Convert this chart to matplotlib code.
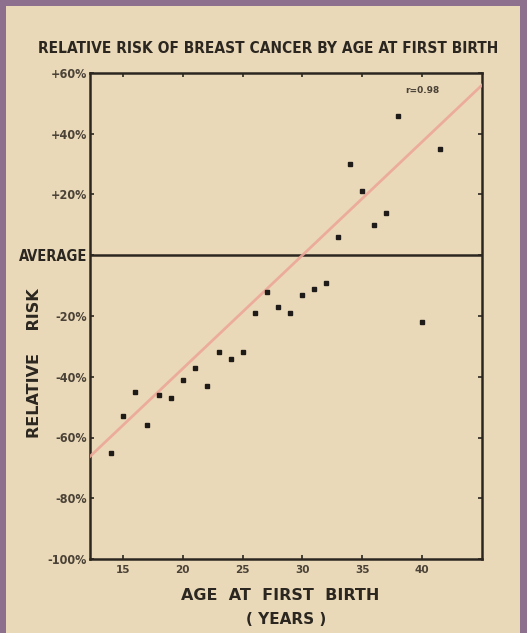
import matplotlib.pyplot as plt
from matplotlib.patches import Rectangle

# 数据：首次生育年龄与相对风险（%）
ages = [14, 15, 16, 17, 18, 19, 20, 21, 22, 23, 24, 25, 26, 27, 28, 29,
        30, 31, 32, 33, 34, 35, 36, 37, 38, 40, 41.5]
risk = [-65, -53, -45, -56, -46, -47, -41, -37, -43, -32, -34, -32, -19, -12,
        -17, -19, -13, -11, -9, 6, 30, 21, 10, 14, 46, -22, 35]

# 趋势线（斜率、过零点年龄）
trend_slope = 3.73
trend_zero_age = 30
trend_ages = [12, 46]
trend_values = [trend_slope * (a - trend_zero_age) for a in trend_ages]

x_ticks = [15, 20, 25, 30, 35, 40]
y_ticks = [-100, -80, -60, -40, -20, 0, 20, 40, 60]
y_labels = ['-100%', '-80%', '-60%', '-40%', '-20%', 'AVERAGE', '+20%', '+40%', '+60%']

paper = '#ead9b9'
ink = '#2b2720'

fig = plt.figure(figsize=(5.27, 6.33), dpi=100)
fig.patch.set_facecolor('#8d6f8e')
fig.patches.append(Rectangle((6 / 527, 0), 514 / 527, 627 / 633,
                             transform=fig.transFigure, facecolor=paper,
                             edgecolor='none', zorder=-5))

ax = fig.add_axes([90 / 527, 74 / 633, 392 / 527, 486 / 633])
ax.set_facecolor(paper)

# 平均线
ax.axhline(0, color=ink, lw=1.8, zorder=2)

# 趋势线
ax.plot(trend_ages, trend_values, color='#eca899', lw=2.0, alpha=0.9, zorder=3)

# 散点
ax.plot(ages, risk, linestyle='none', marker='s', markersize=3.2,
        color='#1e1b18', zorder=4)

ax.set_xlim(12.24, 45.02)
ax.set_ylim(-100, 60)

ax.set_xticks(x_ticks)
ax.set_xticklabels([str(t) for t in x_ticks])
ax.set_yticks(y_ticks)
ax.set_yticklabels(y_labels)

for s in ax.spines.values():
    s.set_color(ink)
    s.set_linewidth(1.8)

ax.tick_params(direction='in', length=3, width=1.2, color=ink,
               top=True, right=True, labelcolor='#4a4236', pad=2)
ax.tick_params(axis='y', labelsize=9)
ax.tick_params(axis='x', labelsize=7.5, pad=4)
for lab in ax.get_yticklabels():
    lab.set_fontweight('bold')
    lab.set_fontstretch('condensed')
    if lab.get_text() == 'AVERAGE':
        lab.set_fontsize(10.5)
        lab.set_color(ink)
for lab in ax.get_xticklabels():
    lab.set_fontweight('bold')

ax.text(0.847, 0.965, 'r=0.98', transform=ax.transAxes, fontsize=6.5,
        fontweight='bold', color='#4a4236', ha='center', va='center')

fig.text(0.509, 0.924, 'RELATIVE RISK OF BREAST CANCER BY AGE AT FIRST BIRTH',
         ha='center', va='center', fontsize=11.1, fontweight='bold',
         fontstretch='condensed', color=ink)
fig.text(0.532, 1 - 596 / 633, 'AGE  AT  FIRST  BIRTH', ha='center',
         va='center', fontsize=11.5, fontweight='bold', color=ink)
fig.text(0.543, 1 - 620 / 633, '( YEARS )', ha='center', va='center',
         fontsize=11, fontweight='bold', color=ink)
fig.text(35 / 527, 1 - 363 / 633, 'RELATIVE    RISK', ha='center',
         va='center', rotation=90, fontsize=11.5, fontweight='bold', color=ink)

plt.savefig('out.png', dpi=100, facecolor=fig.get_facecolor())
